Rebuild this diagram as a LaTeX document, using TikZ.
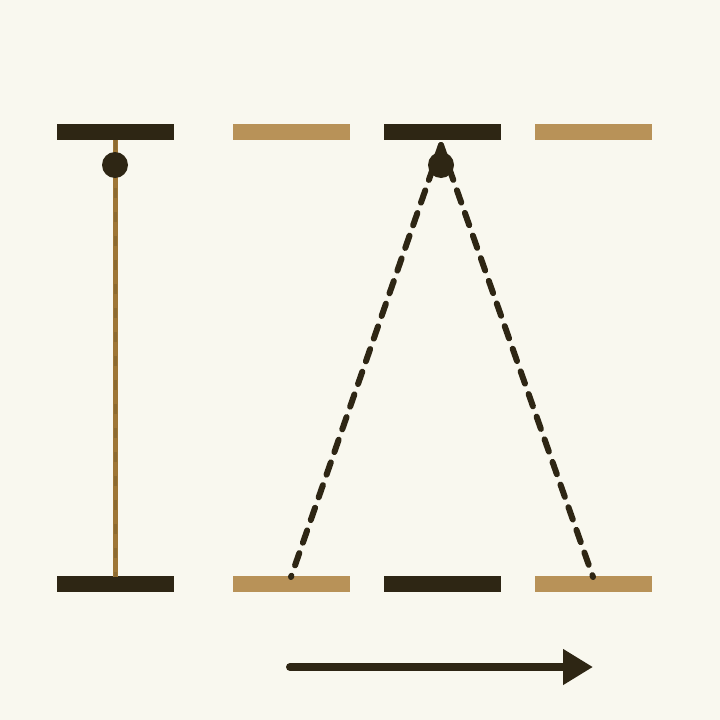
\documentclass[tikz,border=0pt]{standalone}
\usetikzlibrary{arrows.meta}
\definecolor{bg}{HTML}{F9F8EF}
\definecolor{dk}{HTML}{2E2614}
\definecolor{tn}{HTML}{B89258}
\definecolor{rope}{HTML}{9E7636}
\definecolor{rope2}{HTML}{8C6A30}
\tikzset{
  bar/.style={minimum width=117pt,minimum height=16pt,inner sep=0pt,outer sep=0pt},
  darkbar/.style={bar,fill=dk},
  tanbar/.style={bar,fill=tn},
  dot/.style={circle,fill=dk,minimum size=26pt,inner sep=0pt},
  ray/.style={draw=dk,line width=6pt,line cap=round,dash pattern=on 13pt off 11pt},
}
\begin{document}
\begin{tikzpicture}[x=1pt,y=-1pt]
\fill[bg] (0,0) rectangle (720,720);
\useasboundingbox (0,0) rectangle (720,720);
% top bars
\node[darkbar] (t1) at (115.5,132) {};
\node[tanbar]  (t2) at (291.5,132) {};
\node[darkbar] (t3) at (442.5,132) {};
\node[tanbar]  (t4) at (593.5,132) {};
% bottom bars
\node[darkbar] (b1) at (115.5,584) {};
\node[tanbar]  (b2) at (291.5,584) {};
\node[darkbar] (b3) at (442.5,584) {};
\node[tanbar]  (b4) at (593.5,584) {};
% coordinates
\coordinate (l1) at (115.5,140);
\coordinate (l2) at (115.5,577);
\coordinate (apex) at (441,145);
\coordinate (bl) at (291,577);
\coordinate (br) at (593,577);
% left rope
\draw[rope,line width=5pt] (l1) -- (l2);
\draw[rope2,line width=2.5pt,dash pattern=on 10pt off 14pt] (l1) -- (l2);
% dashed rays
\draw[ray] (apex) -- (bl);
\draw[ray] (apex) -- (br);
% dots
\node[dot] (d1) at (115,165) {};
\node[dot] (d2) at (441,165) {};
% arrow
\coordinate (a0) at (290,667);
\coordinate (a1) at (593,667);
\draw[dk,line width=8pt,line cap=round,-{Triangle[length=30pt,width=34pt]}] (a0) -- (a1);
\end{tikzpicture}
\end{document}
